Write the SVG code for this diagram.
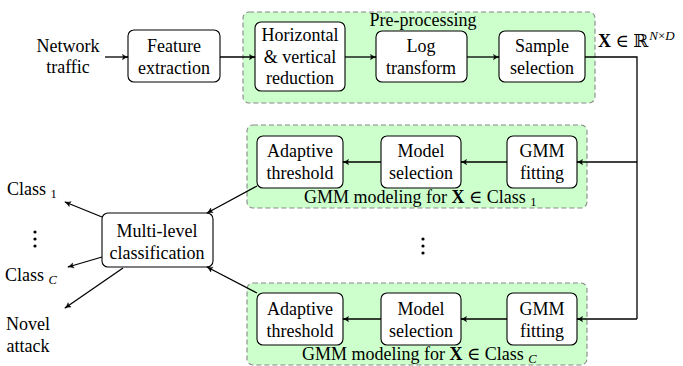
<svg xmlns="http://www.w3.org/2000/svg" width="683" height="366" viewBox="0 0 683 366" font-family="Liberation Serif, DejaVu Serif, serif">
<defs>
<style>
text{font-size:18px;fill:#000;text-anchor:middle}
.box{fill:#fff;stroke:#000;stroke-width:1.1}
.grp{fill:#ccffcc;stroke:#888;stroke-width:1.1;stroke-dasharray:5,3}
.ln{fill:none;stroke:#000;stroke-width:1.3}
.arr{fill:none;stroke:#000;stroke-width:1.3;marker-end:url(#ah)}
.st{text-anchor:start}
.sub{font-size:12.5px}
.it{font-style:italic}
.b{font-weight:bold}
</style>
<marker id="ah" viewBox="0 0 8 8" refX="7.2" refY="4" markerWidth="7" markerHeight="7" markerUnits="userSpaceOnUse" orient="auto">
<path d="M0.8,1 Q4,3.4 7.5,4 Q4,4.6 0.8,7 L2,4 Z" fill="#000" stroke="#000" stroke-width="0.5" stroke-linejoin="round"/>
</marker>
</defs>

<g id="preprocessing">
<rect class="grp" x="243" y="12" width="352" height="91" rx="6"/>
<text x="423" y="26">Pre-processing</text>
</g>
<g id="gmm1">
<rect class="grp" x="247" y="125" width="340" height="83" rx="6"/>
<text class="st" x="304" y="203">GMM modeling for <tspan class="b">X</tspan> ∈ Class <tspan class="sub" dy="3">1</tspan></text>
</g>
<g id="gmmC">
<rect class="grp" x="247" y="283" width="340" height="82" rx="6"/>
<text class="st" x="302" y="360">GMM modeling for <tspan class="b">X</tspan> ∈ Class <tspan class="sub it" dy="3">C</tspan></text>
</g>

<g id="network-traffic">
<text x="68" y="52">Network</text>
<text x="68" y="73">traffic</text>
</g>
<g id="feature-extraction">
<rect class="box" x="128" y="30" width="92" height="52" rx="6"/>
<text x="174" y="52">Feature</text>
<text x="174" y="74">extraction</text>
</g>
<g id="reduction">
<rect class="box" x="255" y="22" width="90" height="69" rx="6"/>
<text x="300" y="41">Horizontal</text>
<text x="300" y="63">&amp; vertical</text>
<text x="300" y="84">reduction</text>
</g>
<g id="log-transform">
<rect class="box" x="376" y="31" width="91" height="51" rx="6"/>
<text x="421" y="52">Log</text>
<text x="421" y="74">transform</text>
</g>
<g id="sample-selection">
<rect class="box" x="499" y="31" width="86" height="51" rx="6"/>
<text x="542" y="52">Sample</text>
<text x="542" y="74">selection</text>
</g>
<g id="x-label">
<text class="st" x="598" y="47"><tspan class="b">X</tspan> ∈ ℝ<tspan class="it" dx="1" dy="-7" font-size="13">N</tspan><tspan font-size="13">×</tspan><tspan class="it" font-size="13">D</tspan></text>
</g>

<g id="adaptive1">
<rect class="box" x="257" y="136" width="86" height="52" rx="6"/>
<text x="300" y="157">Adaptive</text>
<text x="300" y="179">threshold</text>
</g>
<g id="model1">
<rect class="box" x="381" y="136" width="80" height="52" rx="6"/>
<text x="421" y="157">Model</text>
<text x="421" y="179">selection</text>
</g>
<g id="fit1">
<rect class="box" x="507" y="136" width="70" height="52" rx="6"/>
<text x="542" y="157">GMM</text>
<text x="542" y="179">fitting</text>
</g>

<g id="vdots-mid">
<circle cx="423" cy="239" r="1.6"/>
<circle cx="423" cy="246" r="1.6"/>
<circle cx="423" cy="253" r="1.6"/>
</g>

<g id="adaptiveC">
<rect class="box" x="257" y="293" width="86" height="52" rx="6"/>
<text x="300" y="315">Adaptive</text>
<text x="300" y="337">threshold</text>
</g>
<g id="modelC">
<rect class="box" x="381" y="293" width="80" height="52" rx="6"/>
<text x="421" y="315">Model</text>
<text x="421" y="337">selection</text>
</g>
<g id="fitC">
<rect class="box" x="507" y="293" width="70" height="52" rx="6"/>
<text x="542" y="315">GMM</text>
<text x="542" y="337">fitting</text>
</g>

<g id="multi-level">
<rect class="box" x="102" y="213" width="111" height="54" rx="6"/>
<text x="157" y="237">Multi-level</text>
<text x="157" y="259">classification</text>
</g>

<g id="outputs">
<text class="st" x="7" y="195">Class <tspan class="sub" dy="3">1</tspan></text>
<circle cx="35" cy="232" r="1.6"/>
<circle cx="35" cy="239" r="1.6"/>
<circle cx="35" cy="246" r="1.6"/>
<text class="st" x="5" y="281">Class <tspan class="sub it" dy="3">C</tspan></text>
<text x="28" y="330">Novel</text>
<text x="28" y="352">attack</text>
</g>

<g id="connectors">
<line class="arr" x1="105" y1="57" x2="128" y2="57"/>
<line class="arr" x1="220" y1="57" x2="255" y2="57"/>
<line class="arr" x1="345" y1="57" x2="376" y2="57"/>
<line class="arr" x1="467" y1="57" x2="499" y2="57"/>
<polyline class="ln" points="585,57 637,57 637,319"/>
<line class="arr" x1="637" y1="162" x2="577" y2="162"/>
<line class="arr" x1="637" y1="319" x2="577" y2="319"/>
<line class="arr" x1="507" y1="162" x2="461" y2="162"/>
<line class="arr" x1="381" y1="162" x2="343" y2="162"/>
<line class="arr" x1="507" y1="319" x2="461" y2="319"/>
<line class="arr" x1="381" y1="319" x2="343" y2="319"/>
<line class="arr" x1="257" y1="186" x2="207" y2="213"/>
<line class="arr" x1="257" y1="293" x2="207" y2="267"/>
<line class="arr" x1="102" y1="217" x2="65" y2="202"/>
<line class="arr" x1="102" y1="257" x2="68" y2="267"/>
<line class="arr" x1="123" y1="268" x2="65" y2="308"/>
</g>
</svg>
